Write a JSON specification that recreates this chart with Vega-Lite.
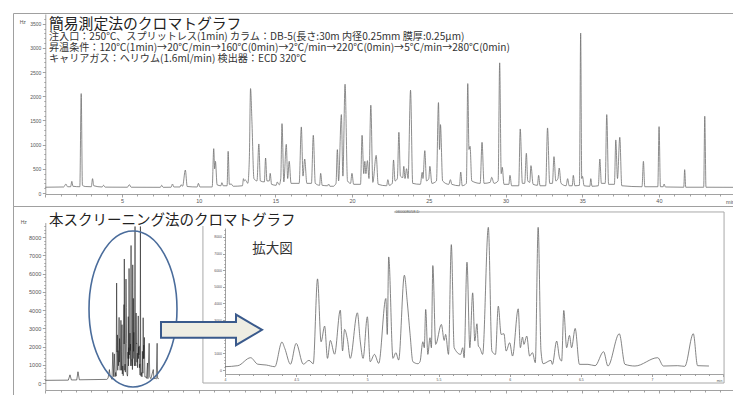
{
  "$schema": "https://vega.github.io/schema/vega-lite/v6.json",
  "padding": {"left": 12, "top": 12, "right": 0, "bottom": 0},
  "spacing": 0,
  "bounds": "flush",
  "config": {
    "view": {"stroke": "#a0a0a0", "strokeWidth": 1},
    "axis": {"grid": false, "domainColor": "#8a8a8a", "tickColor": "#8a8a8a", "labelColor": "#555555", "labelFont": "Liberation Sans", "titleFont": "Liberation Sans", "titleColor": "#555555", "titleFontWeight": "normal", "labelOverlap": false, "labelFlush": false, "labelBound": false, "domainWidth": 0.8, "tickWidth": 0.8}
  },
  "datasets": {
    "top": [
      {"t":0,"s":120},{"t":1.2,"s":125},{"t":1.34,"s":186},{"t":1.45,"s":130},{"t":1.65,"s":130},{"t":1.73,"s":241},{"t":1.8,"s":140},{"t":2.25,"s":130},{"t":2.34,"s":2055},{"t":2.42,"s":160},{"t":2.6,"s":135},{"t":3.0,"s":130},{"t":3.08,"s":297},{"t":3.16,"s":150},{"t":3.7,"s":125},{"t":3.8,"s":160},{"t":3.9,"s":122},{"t":5.35,"s":120},{"t":5.48,"s":172},{"t":5.6,"s":120},{"t":7.5,"s":118},{"t":7.59,"s":160},{"t":7.68,"s":118},{"t":8.2,"s":120},{"t":8.29,"s":186},{"t":8.38,"s":125},{"t":8.78,"s":125},{"t":8.85,"s":172},{"t":8.95,"s":140},{"t":9.13,"s":476},{"t":9.25,"s":135},{"t":9.9,"s":125},{"t":9.98,"s":200},{"t":10.08,"s":125},{"t":10.88,"s":125},{"t":10.98,"s":917},{"t":11.04,"s":500},{"t":11.09,"s":655},{"t":11.2,"s":170},{"t":11.45,"s":150},{"t":11.51,"s":214},{"t":11.6,"s":150},{"t":11.85,"s":150},{"t":11.92,"s":862},{"t":12.0,"s":180},{"t":12.12,"s":186},{"t":12.25,"s":140},{"t":12.85,"s":150},{"t":12.92,"s":297},{"t":12.98,"s":250},{"t":13.05,"s":269},{"t":13.2,"s":200},{"t":13.3,"s":700},{"t":13.38,"s":2159},{"t":13.47,"s":1483},{"t":13.6,"s":300},{"t":13.8,"s":250},{"t":13.92,"s":1014},{"t":14.02,"s":250},{"t":14.28,"s":230},{"t":14.36,"s":724},{"t":14.45,"s":250},{"t":14.6,"s":250},{"t":14.66,"s":407},{"t":14.75,"s":180},{"t":15.05,"s":160},{"t":15.12,"s":228},{"t":15.25,"s":170},{"t":15.35,"s":300},{"t":15.43,"s":1434},{"t":15.55,"s":230},{"t":15.71,"s":1007},{"t":15.8,"s":300},{"t":15.9,"s":655},{"t":16.02,"s":200},{"t":16.55,"s":200},{"t":16.69,"s":1366},{"t":16.8,"s":350},{"t":16.91,"s":703},{"t":17.05,"s":200},{"t":17.35,"s":200},{"t":17.47,"s":1193},{"t":17.6,"s":200},{"t":17.88,"s":160},{"t":17.95,"s":407},{"t":18.05,"s":160},{"t":18.4,"s":150},{"t":18.47,"s":186},{"t":18.55,"s":140},{"t":18.8,"s":140},{"t":18.86,"s":159},{"t":18.95,"s":200},{"t":19.04,"s":897},{"t":19.12,"s":250},{"t":19.3,"s":1621},{"t":19.4,"s":350},{"t":19.54,"s":2248},{"t":19.7,"s":250},{"t":19.9,"s":200},{"t":19.99,"s":407},{"t":20.1,"s":180},{"t":20.55,"s":180},{"t":20.65,"s":1193},{"t":20.76,"s":400},{"t":20.83,"s":655},{"t":20.9,"s":400},{"t":21.0,"s":669},{"t":21.1,"s":300},{"t":21.22,"s":1814},{"t":21.35,"s":220},{"t":21.57,"s":779},{"t":21.7,"s":180},{"t":22.25,"s":150},{"t":22.33,"s":276},{"t":22.42,"s":160},{"t":22.62,"s":200},{"t":22.7,"s":683},{"t":22.8,"s":250},{"t":22.95,"s":300},{"t":23.05,"s":1255},{"t":23.15,"s":350},{"t":23.3,"s":320},{"t":23.37,"s":552},{"t":23.45,"s":300},{"t":23.55,"s":503},{"t":23.65,"s":300},{"t":23.81,"s":2124},{"t":23.95,"s":200},{"t":24.45,"s":180},{"t":24.57,"s":428},{"t":24.62,"s":300},{"t":24.74,"s":876},{"t":24.85,"s":250},{"t":25.0,"s":300},{"t":25.07,"s":552},{"t":25.2,"s":200},{"t":25.5,"s":250},{"t":25.63,"s":1869},{"t":25.7,"s":900},{"t":25.76,"s":1414},{"t":25.9,"s":250},{"t":26.3,"s":180},{"t":26.41,"s":276},{"t":26.5,"s":180},{"t":27.0,"s":150},{"t":27.08,"s":434},{"t":27.18,"s":150},{"t":27.45,"s":200},{"t":27.54,"s":2262},{"t":27.62,"s":900},{"t":27.69,"s":966},{"t":27.8,"s":250},{"t":28.35,"s":200},{"t":28.47,"s":1048},{"t":28.6,"s":200},{"t":29.0,"s":220},{"t":29.1,"s":324},{"t":29.25,"s":200},{"t":29.52,"s":250},{"t":29.62,"s":2690},{"t":29.72,"s":400},{"t":29.79,"s":531},{"t":29.9,"s":180},{"t":30.22,"s":180},{"t":30.29,"s":366},{"t":30.4,"s":150},{"t":30.86,"s":150},{"t":30.96,"s":1324},{"t":31.1,"s":200},{"t":31.25,"s":200},{"t":31.36,"s":821},{"t":31.45,"s":250},{"t":31.58,"s":220},{"t":31.66,"s":566},{"t":31.8,"s":180},{"t":32.08,"s":160},{"t":32.16,"s":366},{"t":32.25,"s":150},{"t":32.62,"s":150},{"t":32.74,"s":1345},{"t":32.88,"s":200},{"t":33.06,"s":200},{"t":33.16,"s":752},{"t":33.28,"s":250},{"t":33.42,"s":300},{"t":33.5,"s":517},{"t":33.62,"s":200},{"t":33.95,"s":150},{"t":34.05,"s":297},{"t":34.15,"s":150},{"t":34.35,"s":150},{"t":34.42,"s":366},{"t":34.52,"s":150},{"t":34.82,"s":160},{"t":34.9,"s":3306},{"t":34.97,"s":300},{"t":35.02,"s":345},{"t":35.12,"s":150},{"t":35.5,"s":140},{"t":35.56,"s":297},{"t":35.64,"s":140},{"t":36.05,"s":150},{"t":36.15,"s":703},{"t":36.25,"s":200},{"t":36.5,"s":200},{"t":36.6,"s":1621},{"t":36.72,"s":180},{"t":37.1,"s":180},{"t":37.19,"s":1097},{"t":37.3,"s":300},{"t":37.45,"s":1152},{"t":37.58,"s":150},{"t":38.9,"s":130},{"t":38.99,"s":655},{"t":39.08,"s":130},{"t":39.93,"s":130},{"t":40.01,"s":1372},{"t":40.1,"s":130},{"t":40.28,"s":130},{"t":40.34,"s":186},{"t":40.42,"s":125},{"t":41.62,"s":120},{"t":41.68,"s":483},{"t":41.75,"s":120},{"t":42.92,"s":120},{"t":42.99,"s":1586},{"t":43.07,"s":120},{"t":44.9,"s":118}
    ],
    "screen": [
      {"t":0,"s":150},{"t":1.5,"s":160},{"t":1.61,"s":450},{"t":1.7,"s":170},{"t":2.05,"s":170},{"t":2.13,"s":620},{"t":2.22,"s":180},{"t":3.9,"s":200},{"t":4.0,"s":200},{"t":4.09,"s":260},{"t":4.18,"s":740},{"t":4.23,"s":350},{"t":4.29,"s":300},{"t":4.35,"s":200},{"t":4.4,"s":1680},{"t":4.42,"s":1300},{"t":4.46,"s":350},{"t":4.5,"s":1600},{"t":4.55,"s":350},{"t":4.59,"s":580},{"t":4.62,"s":380},{"t":4.65,"s":5480},{"t":4.675,"s":1700},{"t":4.7,"s":2640},{"t":4.72,"s":700},{"t":4.74,"s":1780},{"t":4.77,"s":950},{"t":4.81,"s":3600},{"t":4.826,"s":1150},{"t":4.84,"s":2440},{"t":4.86,"s":1840},{"t":4.88,"s":700},{"t":4.93,"s":3440},{"t":4.95,"s":1740},{"t":4.97,"s":700},{"t":5.0,"s":3200},{"t":5.02,"s":500},{"t":5.05,"s":940},{"t":5.08,"s":400},{"t":5.13,"s":4300},{"t":5.14,"s":2140},{"t":5.15,"s":6800},{"t":5.18,"s":700},{"t":5.2,"s":1040},{"t":5.22,"s":600},{"t":5.26,"s":5700},{"t":5.28,"s":4140},{"t":5.3,"s":2180},{"t":5.32,"s":500},{"t":5.355,"s":380},{"t":5.37,"s":500},{"t":5.39,"s":1700},{"t":5.4,"s":1340},{"t":5.41,"s":3640},{"t":5.425,"s":940},{"t":5.44,"s":1940},{"t":5.45,"s":1340},{"t":5.46,"s":6280},{"t":5.48,"s":1540},{"t":5.52,"s":2740},{"t":5.54,"s":1780},{"t":5.55,"s":2140},{"t":5.57,"s":940},{"t":5.59,"s":7540},{"t":5.61,"s":1340},{"t":5.655,"s":940},{"t":5.67,"s":1340},{"t":5.68,"s":740},{"t":5.7,"s":6480},{"t":5.72,"s":1340},{"t":5.74,"s":4640},{"t":5.755,"s":1740},{"t":5.77,"s":2780},{"t":5.78,"s":1440},{"t":5.79,"s":1340},{"t":5.81,"s":940},{"t":5.85,"s":8580},{"t":5.875,"s":1140},{"t":5.9,"s":940},{"t":5.92,"s":3840},{"t":5.94,"s":2140},{"t":5.96,"s":2180},{"t":5.975,"s":1140},{"t":6.0,"s":1640},{"t":6.02,"s":840},{"t":6.06,"s":3680},{"t":6.075,"s":1340},{"t":6.09,"s":1980},{"t":6.1,"s":1540},{"t":6.12,"s":2040},{"t":6.14,"s":840},{"t":6.16,"s":1040},{"t":6.18,"s":440},{"t":6.2,"s":8580},{"t":6.22,"s":1140},{"t":6.235,"s":380},{"t":6.29,"s":580},{"t":6.3,"s":340},{"t":6.33,"s":1740},{"t":6.35,"s":740},{"t":6.365,"s":540},{"t":6.38,"s":3580},{"t":6.4,"s":1340},{"t":6.42,"s":2080},{"t":6.435,"s":1340},{"t":6.46,"s":2500},{"t":6.49,"s":340},{"t":6.55,"s":340},{"t":6.6,"s":260},{"t":6.66,"s":1100},{"t":6.69,"s":240},{"t":6.77,"s":2180},{"t":6.81,"s":340},{"t":6.88,"s":240},{"t":7.04,"s":740},{"t":7.08,"s":240},{"t":7.18,"s":260},{"t":7.23,"s":220},{"t":7.29,"s":2180},{"t":7.32,"s":260},{"t":7.4,"s":240}
    ]
  },
  "vconcat": [
    {
      "width": 721,
      "height": 193,
      "title": {
        "text": "簡易測定法のクロマトグラフ",
        "subtitle": [
          "\u00a0\u00a0\u00a0注入口：250℃、スプリットレス(1min) カラム：DB-5(長さ:30m 内径0.25mm 膜厚:0.25μm)",
          "\u00a0\u00a0\u00a0昇温条件：120℃(1min)→20℃/min→160℃(0min)→2℃/min→220℃(0min)→5℃/min→280℃(0min)",
          "\u00a0\u00a0\u00a0キャリアガス：ヘリウム(1.6ml/min) 検出器：ECD 320℃"
        ],
        "anchor": "start",
        "frame": "group",
        "orient": "top",
        "offset": -51,
        "dx": 36,
        "font": "Noto Sans CJK JP",
        "fontSize": 14.8,
        "fontWeight": "normal",
        "color": "#222222",
        "subtitleFont": "Noto Sans CJK JP",
        "subtitleFontSize": 10.1,
        "subtitleColor": "#333333",
        "subtitleLineHeight": 11,
        "subtitlePadding": 0
      },
      "data": {"name": "top"},
      "mark": {"type": "line", "color": "#707070", "strokeWidth": 0.8, "interpolate": "monotone"},
      "encoding": {
        "x": {
          "field": "t", "type": "quantitative",
          "scale": {"domain": [0, 45], "range": [32.3, 722.6], "nice": false, "zero": false},
          "axis": {
            "orient": "bottom", "offset": -12, "labelOverlap": false,
            "values": [0,1,2,3,4,5,6,7,8,9,10,11,12,13,14,15,16,17,18,19,20,21,22,23,24,25,26,27,28,29,30,31,32,33,34,35,36,37,38,39,40,41,42,43,44,45],
            "labelExpr": "datum.value % 5 === 0 && datum.value > 0 ? datum.label : ''",
            "tickSize": {"condition": {"test": "datum.value % 5 === 0", "value": 3}, "value": 2},
            "labelFontSize": 5.5, "labelPadding": 1,
            "title": "min", "titleX": 717, "titleY": 7, "titleFontSize": 5.5, "titleBaseline": "middle", "titleAlign": "center"
          }
        },
        "y": {
          "field": "s", "type": "quantitative",
          "scale": {"domain": [-20, 3700], "range": [181, 1], "nice": false, "zero": false},
          "axis": {
            "orient": "left", "offset": -32.3, "format": "d", "labelOverlap": false,
            "values": [0,100,200,300,400,500,600,700,800,900,1000,1100,1200,1300,1400,1500,1600,1700,1800,1900,2000,2100,2200,2300,2400,2500,2600,2700,2800,2900,3000,3100,3200,3300,3400,3500,3600],
            "labelExpr": "datum.value % 500 === 0 ? datum.label : ''",
            "tickSize": {"condition": {"test": "datum.value % 500 === 0", "value": 3}, "value": 1.5},
            "labelFontSize": 5, "labelPadding": 1.5,
            "title": "Hz", "titleAngle": 0, "titleX": -23, "titleY": 8, "titleFontSize": 5, "titleBaseline": "middle", "titleAlign": "center"
          }
        }
      }
    },
    {
      "width": 721,
      "height": 195,
      "title": {
        "text": "本スクリーニング法のクロマトグラフ",
        "anchor": "start",
        "frame": "group",
        "orient": "top",
        "offset": -22,
        "dx": 36,
        "font": "Noto Sans CJK JP",
        "fontSize": 14.5,
        "fontWeight": "normal",
        "color": "#222222"
      },
      "layer": [
        {
          "data": {"name": "screen"},
          "transform": [{"filter": "datum.t >= 3.95"}],
          "mark": {"type": "line", "color": "#666666", "strokeWidth": 0.8, "interpolate": "monotone"},
          "encoding": {
            "x": {
              "field": "t", "type": "quantitative",
              "scale": {"domain": [4, 7.5], "range": [212, 710.2], "nice": false, "zero": false},
              "axis": {
                "orient": "bottom", "offset": -27, "labelOverlap": false,
                "values": [4,4.1,4.2,4.3,4.4,4.5,4.6,4.7,4.8,4.9,5,5.1,5.2,5.3,5.4,5.5,5.6,5.7,5.8,5.9,6,6.1,6.2,6.3,6.4,6.5,6.6,6.7,6.8,6.9,7,7.1,7.2,7.3,7.4,7.5],
                "labelExpr": "abs(datum.value*2 - round(datum.value*2)) < 0.001 && datum.value < 7.4 ? format(datum.value, '~g') : ''",
                "tickSize": {"condition": {"test": "abs(datum.value*2 - round(datum.value*2)) < 0.001", "value": 2.5}, "value": 1.5},
                "labelFontSize": 3.5, "labelPadding": 1,
                "title": "min", "titleX": 706, "titleY": 6, "titleFontSize": 3.5, "titleBaseline": "middle", "titleAlign": "center"
              }
            },
            "y": {
              "field": "s", "type": "quantitative",
              "scale": {"domain": [-240, 8540], "range": [168, 22], "nice": false, "zero": false},
              "axis": {
                "orient": "left", "offset": -212, "format": "d", "labelOverlap": false,
                "values": [0,200,400,600,800,1000,1200,1400,1600,1800,2000,2200,2400,2600,2800,3000,3200,3400,3600,3800,4000,4200,4400,4600,4800,5000,5200,5400,5600,5800,6000,6200,6400,6600,6800,7000,7200,7400,7600,7800,8000,8200,8400],
                "labelExpr": "datum.value % 1000 === 0 ? datum.label : ''",
                "tickSize": {"condition": {"test": "datum.value % 1000 === 0", "value": 2.5}, "value": 1.2},
                "labelFontSize": 3.5, "labelPadding": 1,
                "title": null
              }
            }
          }
        },
        {
          "data": {"values": [{}]},
          "mark": {"type": "rule", "color": "#a8a8a8", "strokeWidth": 1},
          "encoding": {
            "x": {"datum": 3.845, "type": "quantitative", "scale": {"domain": [4, 7.5], "range": [212, 710.2], "nice": false, "zero": false}, "axis": null},
            "y": {"datum": -782, "type": "quantitative", "scale": {"domain": [-240, 8540], "range": [168, 22], "nice": false, "zero": false}, "axis": null},
            "y2": {"datum": 8660}
          }
        },
        {
          "data": {"values": [{}]},
          "mark": {"type": "rule", "color": "#a8a8a8", "strokeWidth": 1},
          "encoding": {
            "x": {"datum": 3.845, "type": "quantitative", "scale": {"domain": [4, 7.5], "range": [212, 710.2], "nice": false, "zero": false}, "axis": null},
            "x2": {"datum": 7.506},
            "y": {"datum": -782, "type": "quantitative", "scale": {"domain": [-240, 8540], "range": [168, 22], "nice": false, "zero": false}, "axis": null}
          }
        },
        {
          "data": {"values": [{}]},
          "mark": {"type": "rule", "color": "#a8a8a8", "strokeWidth": 1},
          "encoding": {
            "x": {"datum": 7.506, "type": "quantitative", "scale": {"domain": [4, 7.5], "range": [212, 710.2], "nice": false, "zero": false}, "axis": null},
            "y": {"datum": -782, "type": "quantitative", "scale": {"domain": [-240, 8540], "range": [168, 22], "nice": false, "zero": false}, "axis": null},
            "y2": {"datum": 9504}
          }
        },
        {
          "data": {"values": [{}]},
          "mark": {"type": "rule", "color": "#a8a8a8", "strokeWidth": 1},
          "encoding": {
            "x": {"datum": 5.187, "type": "quantitative", "scale": {"domain": [4, 7.5], "range": [212, 710.2], "nice": false, "zero": false}, "axis": null},
            "x2": {"datum": 7.506},
            "y": {"datum": 9504, "type": "quantitative", "scale": {"domain": [-240, 8540], "range": [168, 22], "nice": false, "zero": false}, "axis": null}
          }
        },
        {
          "data": {"values": [{}]},
          "mark": {"type": "text", "text": "060008058.D", "font": "Liberation Sans", "fontSize": 4, "color": "#555555", "align": "center", "baseline": "middle"},
          "encoding": {
            "x": {"datum": 5.282, "type": "quantitative", "scale": {"domain": [4, 7.5], "range": [212, 710.2], "nice": false, "zero": false}, "axis": null},
            "y": {"datum": 9504, "type": "quantitative", "scale": {"domain": [-240, 8540], "range": [168, 22], "nice": false, "zero": false}, "axis": null}
          }
        },
        {
          "data": {"values": [{}]},
          "mark": {"type": "text", "text": "拡大図", "font": "Noto Sans CJK JP", "fontSize": 13.5, "color": "#333333", "align": "center", "baseline": "middle"},
          "encoding": {
            "x": {"datum": 4.334, "type": "quantitative", "scale": {"domain": [4, 7.5], "range": [212, 710.2], "nice": false, "zero": false}, "axis": null},
            "y": {"datum": 7278, "type": "quantitative", "scale": {"domain": [-240, 8540], "range": [168, 22], "nice": false, "zero": false}, "axis": null}
          }
        },
        {
          "data": {"name": "screen"},
          "mark": {"type": "line", "color": "#222222", "strokeWidth": 0.6},
          "encoding": {
            "x": {
              "field": "t", "type": "quantitative",
              "scale": {"domain": [0, 45], "range": [32.3, 722.6], "nice": false, "zero": false},
              "axis": {
                "orient": "bottom", "offset": -11, "labelOverlap": false,
                "values": [0,1,2,3,4,5,6,7,8,9,10,11,12,13,14,15,16,17,18,19,20,21,22,23,24,25,26,27,28,29,30,31,32,33,34,35,36,37,38,39,40,41,42,43,44,45],
                "labelExpr": "datum.value % 5 === 0 && datum.value > 0 ? datum.label : ''",
                "tickSize": {"condition": {"test": "datum.value % 5 === 0", "value": 3}, "value": 2},
                "labelFontSize": 5.5, "labelPadding": 1,
                "title": "min", "titleX": 717, "titleY": 7, "titleFontSize": 5.5, "titleBaseline": "middle", "titleAlign": "center"
              }
            },
            "y": {
              "field": "s", "type": "quantitative",
              "scale": {"domain": [-380, 8800], "range": [184, 16.5], "nice": false, "zero": false},
              "axis": {
                "orient": "left", "offset": -32.3, "format": "d", "labelOverlap": false,
                "values": [0,200,400,600,800,1000,1200,1400,1600,1800,2000,2200,2400,2600,2800,3000,3200,3400,3600,3800,4000,4200,4400,4600,4800,5000,5200,5400,5600,5800,6000,6200,6400,6600,6800,7000,7200,7400,7600,7800,8000,8200,8400,8600],
                "labelExpr": "datum.value % 1000 === 0 ? datum.label : ''",
                "tickSize": {"condition": {"test": "datum.value % 1000 === 0", "value": 3}, "value": 1.5},
                "labelFontSize": 5.5, "labelPadding": 1.5,
                "title": "Hz", "titleAngle": 0, "titleX": -22, "titleY": 15, "titleFontSize": 5, "titleBaseline": "middle", "titleAlign": "center"
              }
            }
          }
        },
        {
          "data": {"values": [{}]},
          "mark": {"type": "point", "shape": "M 0.564 0 C 0.564 0.5523 0.3115 1 0 1 C -0.3115 1 -0.564 0.5523 -0.564 0 C -0.564 -0.5523 -0.3115 -1 0 -1 C 0.3115 -1 0.564 -0.5523 0.564 0 Z", "filled": false, "color": "#4a6c9b", "strokeWidth": 1.6, "size": 24336, "opacity": 1},
          "encoding": {
            "x": {"datum": 5.717, "type": "quantitative", "scale": {"domain": [0, 45], "range": [32.3, 722.6], "nice": false, "zero": false}, "axis": null},
            "y": {"datum": 4056, "type": "quantitative", "scale": {"domain": [-380, 8800], "range": [184, 16.5], "nice": false, "zero": false}, "axis": null}
          }
        },
        {
          "data": {"values": [{}]},
          "mark": {"type": "point", "shape": "M -1 -0.154 L 0.485 -0.154 L 0.485 -0.303 L 1 0 L 0.485 0.303 L 0.485 0.154 L -1 0.154 Z", "filled": true, "fill": "#eeede3", "stroke": "#3a5a8c", "strokeWidth": 2, "size": 10201, "opacity": 1},
          "encoding": {
            "x": {"datum": 10.834, "type": "quantitative", "scale": {"domain": [0, 45], "range": [32.3, 722.6], "nice": false, "zero": false}, "axis": null},
            "y": {"datum": 2916, "type": "quantitative", "scale": {"domain": [-380, 8800], "range": [184, 16.5], "nice": false, "zero": false}, "axis": null}
          }
        }
      ],
      "resolve": {"scale": {"x": "independent", "y": "independent"}, "axis": {"x": "independent", "y": "independent"}}
    }
  ]
}
